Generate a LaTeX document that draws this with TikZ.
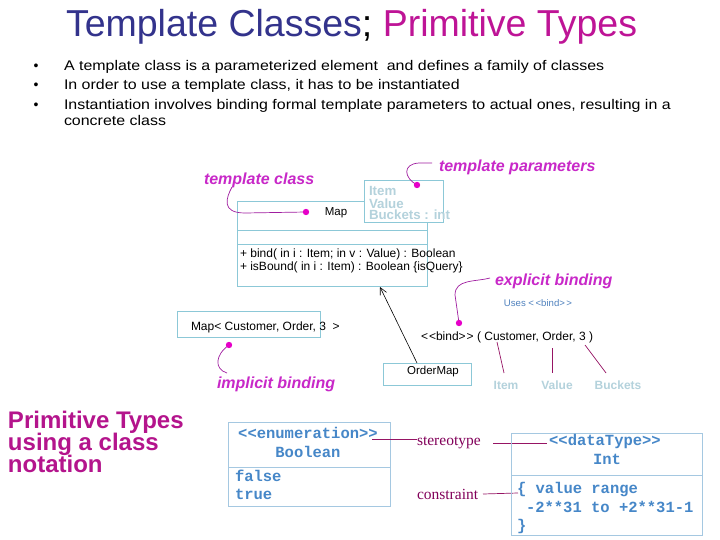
\documentclass[tikz,border=0pt]{standalone}
\usepackage{fontspec}
\setmainfont{Liberation Sans}
\newfontfamily\serifL{Liberation Serif}
\newfontfamily\monoL{Liberation Mono}
\newfontfamily\bulfont{Liberation Sans}[FakeStretch=1.14]
\usetikzlibrary{arrows.meta}
\definecolor{tblue}{RGB}{51,51,140}
\definecolor{tmag}{RGB}{190,20,150}
\definecolor{pmag}{RGB}{180,20,140}
\definecolor{amag}{RGB}{200,40,200}
\definecolor{aline}{RGB}{160,30,160}
\definecolor{adot}{RGB}{230,0,200}
\definecolor{boxc}{RGB}{140,200,215}
\definecolor{box2}{RGB}{165,200,225}
\definecolor{ltext}{RGB}{180,210,220}
\definecolor{monoc}{RGB}{70,135,200}
\definecolor{stc}{RGB}{130,0,90}
\definecolor{stl}{RGB}{150,20,100}
\definecolor{usec}{RGB}{80,130,190}
\newcommand\myfs[1]{\fontsize{#1}{#1}\selectfont}
\begin{document}
\begin{tikzpicture}[x=1pt,y=-1pt,
  every node/.style={inner sep=0pt,outer sep=0pt},
  ubox/.style={draw=boxc,line width=0.8pt,anchor=north west},
  ebox/.style={draw=box2,line width=0.8pt,anchor=north west},
  txt/.style={anchor=base west,font=\myfs{12}},
  anno/.style={anchor=base west,text=amag,font=\myfs{16}\bfseries\itshape},
  aln/.style={draw=aline,line width=0.7pt},
  mono/.style={anchor=base west,text=monoc,font=\myfs{15.5}\monoL\bfseries},
  ltx/.style={anchor=base,text=ltext,font=\myfs{12}\bfseries},
  bul/.style={anchor=base west,font=\myfs{14}\bulfont},
  plin/.style={draw=stl,line width=0.7pt}]
\useasboundingbox (0,0) rectangle (720,540);
\fill[white] (0,0) rectangle (720,540);

% title
\node[anchor=base west,font=\myfs{37.5}] (title) at (66,37)
  {{\color{tblue}Template Classes}; {\color{tmag}Primitive Types}};
% bullets
\foreach \y/\n in {71/b1,90/b2,110/b3}{
  \node[anchor=base,font=\myfs{14}] (\n) at (36,\y) {\textbullet};}
\node[bul] (l1) at (64,71) {A template class is a parameterized element\ \ and defines a family of classes};
\node[bul] (l2) at (64,90) {In order to use a template class, it has to be instantiated};
\node[bul] (l3) at (64,110) {Instantiation involves binding formal template parameters to actual ones, resulting in a};
\node[bul] (l4) at (64,126) {concrete class};

% Map class
\node[ubox,minimum width=190pt,minimum height=85pt] (map) at (237,201) {};
\draw[boxc,line width=0.8pt] (map.west |- 0,230) -- (map.east |- 0,230);
\draw[boxc,line width=0.8pt] (map.west |- 0,244) -- (map.east |- 0,244);
\node[anchor=center,font=\myfs{11.5}] (mapname) at (336,213) {Map};
\node[txt] (m1) at (240,258) {+ bind( in i : Item; in v : Value) : Boolean};
\node[txt] (m2) at (240,270) {+ isBound( in i : Item) : Boolean \{isQuery\}};

% template parameters box
\node[ubox,fill=white,minimum width=79pt,minimum height=42pt] (tpar) at (364,180) {};
\node[anchor=base west,text=ltext,font=\myfs{13.3}\bfseries] (p1) at (369,196) {Item};
\node[anchor=base west,text=ltext,font=\myfs{13.3}\bfseries] (p2) at (369,208) {Value};
\node[anchor=base west,text=ltext,font=\myfs{13.3}\bfseries] (p3) at (369,220) {Buckets : int};

% annotations
\node[anno] (tc) at (204,185) {template class};
\node[anno] (tp) at (439,172) {template parameters};
\node[anno] (eb) at (495,285) {explicit binding};
\node[anno] (ib) at (217,388) {implicit binding};

\coordinate (d1) at (306,212);
\coordinate (d2) at (417,185);
\coordinate (d3) at (459,323);
\coordinate (d4) at (229,345);
\draw[aln] (232,187) .. controls (226,198) and (221,213) .. (245,213) -- (d1);
\draw[aln] (432,163) -- (419,163) .. controls (402,164) and (404,178) .. (d2);
\draw[aln] (490,278) .. controls (475,282) and (455,279) .. (455,295) -- (d3);
\draw[aln] (d4) .. controls (215,355) and (214,369) .. (227,373);
\foreach \d in {d1,d2,d3,d4} \fill[adot] (\d) circle (3.2pt);

% Uses bind
\node[anchor=base,text=usec,font=\myfs{9.6}] (uses) at (538,306) {Uses <\kern1.5pt<bind>\kern1.5pt>};

% Map< > box
\node[ubox,minimum width=143pt,minimum height=26pt] (mapi) at (177,311) {};
\node[txt] (mapit) at (191,330) {Map< Customer, Order, 3\ \ >};

% bind text
\node[txt] (bind) at (421,340) {<\kern1pt<bind>\kern1pt> ( Customer, Order, 3 )};

% OrderMap
\node[ubox,minimum width=88pt,minimum height=22pt] (om) at (383,363) {};
\node[anchor=center,font=\myfs{11.5}] (omt) at (433,372) {OrderMap};
\coordinate (a1) at (417,363);
\coordinate (a2) at (380,287);
\draw[line width=0.6pt,-{Straight Barb[length=7pt,width=7pt]}] (a1) -- (a2);

% param labels
\node[ltx] (li) at (506,389) {Item};
\node[ltx] (lv) at (557,389) {Value};
\node[ltx] (lb) at (618,389) {Buckets};
\draw[plin] (497,342) -- (504,373);
\draw[plin] (552,348) -- (552,373);
\draw[plin] (585,345) -- (606,373);

% Primitive types
\node[anchor=base west,text=pmag,font=\myfs{24}\bfseries] (pt1) at (8,428) {Primitive Types};
\node[anchor=base west,text=pmag,font=\myfs{24}\bfseries] (pt2) at (8,450) {using a class};
\node[anchor=base west,text=pmag,font=\myfs{24}\bfseries] (pt3) at (8,472) {notation};

% Boolean
\node[ebox,minimum width=162pt,minimum height=84pt] (bool) at (228,422) {};
\draw[box2,line width=0.8pt] (bool.west |- 0,467) -- (bool.east |- 0,467);
\node[mono,anchor=base] (e1) at (308,438) {<<enumeration>>};
\node[mono,anchor=base] (e2) at (308,457) {Boolean};
\node[mono] (e3) at (235,481) {false};
\node[mono] (e4) at (235,499) {true};

% stereotype / constraint
\node[anchor=base west,text=stc,font=\myfs{15.5}\serifL] (st) at (417,445) {stereotype};
\node[anchor=base west,text=stc,font=\myfs{15.5}\serifL] (cs) at (417,499) {constraint};
\draw[plin] (372,439) -- (st.west |- 0,439);
\draw[plin] (493,443) -- (547,443);
\draw[plin] (483,494) -- (518,493);

% dataType
\node[ebox,minimum width=191pt,minimum height=102pt] (dt) at (511,433) {};
\draw[box2,line width=0.8pt] (dt.west |- 0,475) -- (dt.east |- 0,475);
\node[mono,anchor=base] (t1) at (605,445) {<<dataType>>};
\node[mono,anchor=base] (t2) at (607,464) {Int};
\node[mono] (t3) at (517,493) {\{ value range};
\node[mono] (t4) at (526,512) {-2**31 to +2**31-1};
\node[mono] (t5) at (517,530) {\}};
\end{tikzpicture}
\end{document}
